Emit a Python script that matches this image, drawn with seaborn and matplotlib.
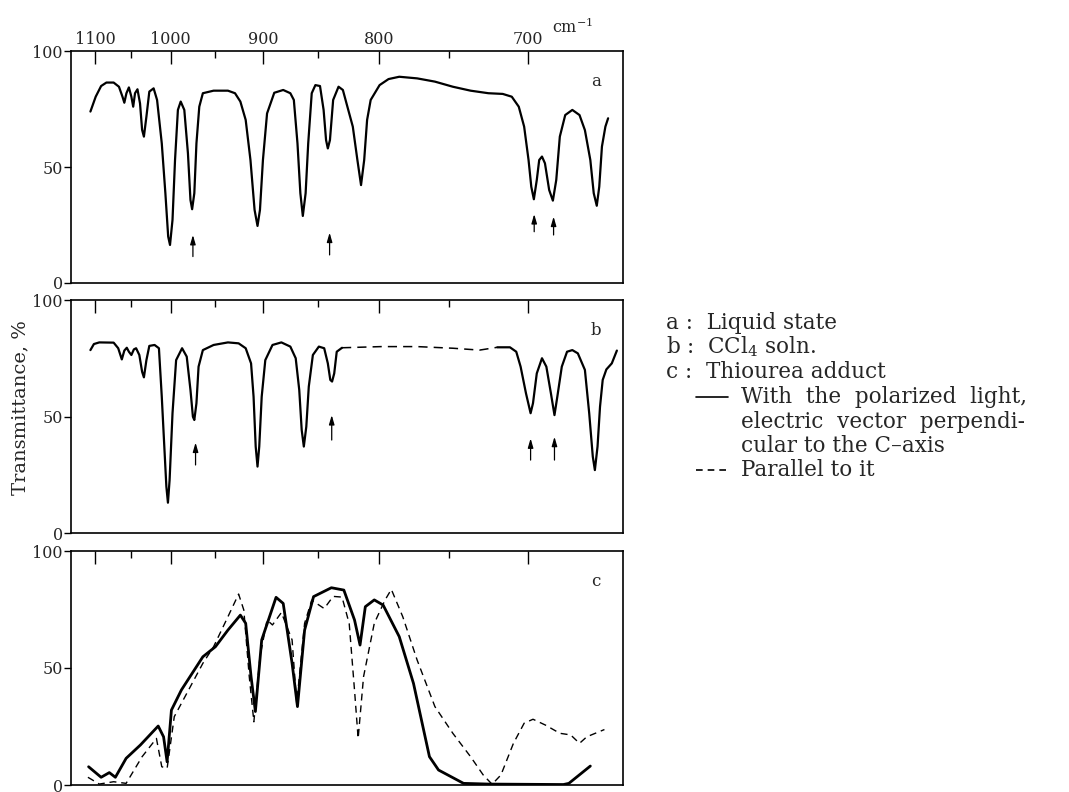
import numpy as np
import seaborn as sns
import matplotlib.pyplot as plt
from matplotlib.lines import Line2D
from matplotlib.ticker import FixedLocator

# wavenumbers (cm-1) and transmittance (%)
# a : liquid state
a_wn = [1106.7, 1099.0, 1091.2, 1083.7, 1073.6, 1066.3, 1061.5, 1059.0, 1056.2, 1052.9,
        1049.6, 1047.2, 1044.8, 1041.6, 1038.3, 1035.6, 1033.3, 1030.1, 1026.4, 1021.0,
        1016.7, 1010.9, 1006.5, 1003.1, 1000.9, 997.9, 994.9, 991.5, 988.2, 984.0,
        979.8, 976.9, 975.0, 972.5, 970.1, 966.9, 962.9, 951.1, 935.8, 928.4,
        922.9, 917.5, 912.7, 908.6, 905.7, 903.3, 900.4, 896.4, 889.5, 881.1,
        874.5, 871.3, 868.0, 865.4, 863.2, 860.7, 858.4, 855.3, 852.1, 848.1,
        845.0, 842.9, 841.4, 839.6, 836.9, 832.4, 828.8, 825.1, 820.7, 817.0,
        814.1, 811.6, 809.3, 806.5, 799.6, 792.8, 784.8, 771.8, 759.3, 747.1,
        735.4, 724.0, 715.1, 709.6, 705.4, 702.2, 699.6, 698.0, 696.5, 694.8,
        693.4, 691.8, 690.1, 687.7, 685.6, 683.7, 681.7, 678.7, 674.8, 670.9,
        668.0, 665.1, 663.3, 661.7, 660.4, 659.0, 657.2, 655.8]
a_T = [73.9, 80.3, 84.9, 86.4, 86.4, 84.6, 80.3, 77.7, 81.8, 84.3,
       80.3, 76.0, 81.8, 83.5, 77.4, 66.0, 63.1, 71.7, 82.5, 83.9,
       78.9, 60.2, 38.7, 20.0, 16.4, 27.2, 53.0, 74.6, 78.2, 74.6,
       55.9, 35.8, 31.8, 38.7, 60.2, 76.0, 81.8, 82.9, 82.9, 81.8,
       78.2, 70.3, 53.0, 31.5, 24.6, 31.5, 53.0, 73.1, 82.0, 83.2,
       81.8, 78.9, 60.2, 38.7, 28.9, 38.7, 60.2, 81.8, 85.3, 84.9,
       74.6, 61.6, 58.0, 61.6, 78.9, 84.6, 83.2, 76.0, 67.4, 53.0,
       42.2, 53.0, 70.3, 78.9, 85.3, 87.9, 88.9, 88.2, 86.8, 84.6,
       82.9, 81.8, 81.5, 80.3, 76.0, 67.4, 53.0, 41.5, 36.1, 44.4,
       53.0, 54.5, 51.6, 40.1, 35.5, 44.4, 63.1, 72.4, 74.6, 72.4,
       65.9, 53.0, 38.7, 33.3, 41.5, 58.8, 67.4, 71.0]
a_arrow_wn = [974.1, 839.9, 696.3, 685.2]
a_arrow_lo = [11.4, 12.1, 22.1, 20.7]
a_arrow_hi = [20.7, 21.7, 29.7, 28.6]

# b : CCl4 solution (solid, dashed gap, solid)
b1_wn = [1106.7, 1101.6, 1093.8, 1073.6, 1067.3, 1062.4, 1059.0, 1055.7, 1052.9, 1049.6,
         1046.3, 1043.4, 1039.2, 1035.6, 1033.3, 1030.1, 1026.4, 1019.8, 1014.4, 1010.9,
         1007.8, 1005.3, 1003.4, 1001.4, 997.9, 993.6, 986.6, 981.2, 976.9, 974.1,
         972.5, 970.1, 967.7, 962.9, 951.1, 935.8, 924.7, 917.5, 912.1, 909.6,
         907.5, 905.7, 904.0, 901.6, 898.1, 891.2, 882.8, 874.5, 869.6, 866.4,
         864.2, 862.3, 860.1, 857.9, 854.3, 849.1, 844.5, 841.4, 839.3, 837.8,
         836.0, 833.9, 829.5]
b1_T = [78.5, 81.1, 81.8, 81.7, 79.3, 74.5, 78.3, 79.5, 77.8, 76.4,
        78.8, 79.3, 76.4, 69.2, 66.8, 74.2, 80.3, 80.7, 79.3, 58.5,
        37.1, 19.9, 13.0, 22.7, 51.4, 74.2, 79.3, 75.7, 61.4, 49.9,
        48.5, 55.7, 71.4, 78.5, 80.7, 81.8, 81.4, 79.3, 72.8, 58.5,
        37.1, 28.5, 37.1, 58.5, 74.2, 80.7, 81.8, 80.0, 75.0, 61.4,
        44.2, 37.1, 45.6, 62.8, 76.4, 80.0, 79.3, 72.8, 65.7, 65.0,
        68.5, 77.8, 79.5]
b_gap_wn = [829.5, 798.3, 771.8, 747.1, 729.6, 718.4]
b_gap_T = [79.5, 80.0, 80.0, 79.3, 78.5, 79.7]
b2_wn = [718.4, 710.7, 706.9, 704.3, 701.1, 698.4, 697.0, 694.8, 691.8, 689.3,
         686.7, 684.7, 683.1, 680.6, 677.7, 674.8, 671.8, 668.0, 665.7, 663.8,
         662.7, 661.3, 660.0, 658.6, 656.7, 653.9, 651.3]
b2_T = [79.7, 79.7, 77.8, 71.4, 59.9, 51.4, 55.7, 68.5, 75.0, 71.4,
        59.9, 50.6, 58.5, 71.4, 77.8, 78.5, 77.1, 70.0, 51.4, 32.8,
        27.0, 37.1, 54.2, 65.7, 70.2, 72.8, 78.3]
b_arrow_wn = [971.1, 838.1, 698.4, 684.7]
b_arrow_lo = [29.2, 39.9, 31.3, 31.3]
b_arrow_hi = [38.8, 50.6, 40.6, 41.3]

# c : thiourea adduct, perpendicular (solid) and parallel (dashed)
c_perp_wn = [1109.4, 1091.2, 1079.6, 1071.2, 1056.6, 1037.8, 1015.3, 1008.7, 1004.4, 999.2,
             987.4, 962.9, 949.1, 935.8, 922.9, 917.5, 912.1, 907.8, 901.6, 887.8,
             881.1, 872.9, 868.0, 861.6, 853.7, 838.4, 828.0, 819.3, 814.9, 810.7,
             803.7, 796.9, 784.8, 774.4, 763.1, 756.8, 740.0, 724.0, 679.7, 676.7,
             665.1]
c_perp_T = [7.8, 3.3, 5.3, 3.3, 11.4, 17.1, 25.2, 20.6, 9.9, 32.0,
            40.6, 54.8, 59.1, 66.2, 72.6, 69.1, 46.3, 31.4, 62.0, 80.2,
            77.6, 52.0, 33.5, 66.2, 80.5, 84.3, 83.3, 70.5, 59.8, 76.2,
            79.1, 76.9, 63.4, 43.4, 12.1, 6.4, 0.7, 0.4, 0.2, 0.7,
            8.1]
c_par_wn = [1110.4, 1093.8, 1073.6, 1056.6, 1035.6, 1017.5, 1010.9, 1004.4, 995.8, 962.9,
            951.1, 935.8, 924.7, 919.4, 913.9, 909.3, 903.3, 896.4, 891.2, 882.8,
            872.9, 868.7, 861.6, 855.3, 844.5, 836.9, 829.5, 823.6, 819.3, 816.4,
            812.1, 803.7, 795.5, 790.7, 782.2, 771.8, 759.3, 747.1, 735.4, 727.3,
            721.7, 716.2, 708.6, 702.2, 697.0, 689.8, 681.7, 675.7, 670.9, 667.0,
            657.7]
c_par_T = [3.3, 0.4, 1.4, 0.7, 12.1, 19.9, 7.8, 7.1, 29.2, 52.0,
           59.1, 71.9, 81.6, 74.8, 46.3, 27.0, 54.8, 70.5, 68.4, 73.7,
           62.0, 34.9, 69.1, 79.0, 75.4, 80.6, 80.3, 68.9, 40.4, 19.9,
           46.3, 69.1, 79.0, 83.6, 71.9, 53.4, 33.5, 22.1, 12.1, 4.3,
           0.3, 4.3, 17.8, 26.4, 28.1, 25.6, 22.1, 21.4, 17.8, 20.6,
           23.7]

major_wn = [1100, 1000, 900, 800, 700]
minor_wn = [1050, 950, 850, 750]
panel_tags = ["a", "b", "c"]


def to_um(w):
    # chart is linear in wavelength: 10000 / wavenumber
    w = np.asarray(w, dtype=float)
    with np.errstate(divide="ignore"):
        return 1e4 / w


sns.set_style("white")
plt.rcParams["font.family"] = ["DejaVu Serif"]
plt.rcParams["mathtext.fontset"] = "dejavuserif"

W, H = 1069, 792
fig = plt.figure(figsize=(W / 100, H / 100), dpi=100)


def box(l, t, r, b):
    return [l / W, 1 - b / H, (r - l) / W, (b - t) / H]


axes = [fig.add_axes(box(71, 51, 623, 283)),
        fig.add_axes(box(71, 300, 623, 533)),
        fig.add_axes(box(71, 551, 623, 785))]

for ax in axes:
    ax.set_xscale("function", functions=(to_um, to_um))

ax_a, ax_b, ax_c = axes
sns.lineplot(x=a_wn, y=a_T, ax=ax_a, color="black", linewidth=1.6, sort=False, estimator=None)
sns.lineplot(x=b1_wn, y=b1_T, ax=ax_b, color="black", linewidth=1.6, sort=False, estimator=None)
sns.lineplot(x=b_gap_wn, y=b_gap_T, ax=ax_b, color="black", linewidth=1.1, sort=False,
             estimator=None, linestyle=(0, (6, 4)))
sns.lineplot(x=b2_wn, y=b2_T, ax=ax_b, color="black", linewidth=1.6, sort=False, estimator=None)
sns.lineplot(x=c_par_wn, y=c_par_T, ax=ax_c, color="black", linewidth=1.0, sort=False,
             estimator=None, linestyle=(0, (5, 3.5)))
sns.lineplot(x=c_perp_wn, y=c_perp_T, ax=ax_c, color="black", linewidth=2.0, sort=False, estimator=None)

for ax, wn, lo, hi in [(ax_a, a_arrow_wn, a_arrow_lo, a_arrow_hi),
                       (ax_b, b_arrow_wn, b_arrow_lo, b_arrow_hi)]:
    for w, l, h in zip(wn, lo, hi):
        ax.annotate("", xy=(w, h), xytext=(w, l),
                    arrowprops=dict(arrowstyle="-|>,head_length=0.55,head_width=0.16",
                                    color="black", lw=0.9, shrinkA=0, shrinkB=0,
                                    mutation_scale=10))

for i, ax in enumerate(axes):
    # 10000/w is decreasing, so the small wavenumber goes first to keep 1100 on the left
    ax.set_xlim(648.2, 1136.0)
    ax.set_ylim(0, 100)
    ax.xaxis.set_major_locator(FixedLocator(major_wn))
    ax.xaxis.set_minor_locator(FixedLocator(minor_wn))
    ax.set_xticklabels([str(v) for v in major_wn])
    ax.tick_params(axis="x", which="both", top=True, bottom=False, direction="in",
                   labeltop=(i == 0), labelbottom=False, width=1.0, color="black",
                   labelsize=11.5, pad=2.5)
    ax.tick_params(axis="x", which="major", length=9)
    ax.tick_params(axis="x", which="minor", length=5)
    ax.set_yticks([0, 50, 100])
    ax.set_yticklabels(["0", "50", "100"])
    ax.tick_params(axis="y", left=True, direction="out", length=5, width=1.0,
                   color="black", labelsize=11.5, pad=1)
    ax.set_xlabel("")
    ax.set_ylabel("")
    for s in ax.spines.values():
        s.set_color("black")
        s.set_linewidth(1.2)
    ax.text(0.951, 0.87, panel_tags[i], transform=ax.transAxes, ha="center",
            va="center", fontsize=12)

fig.text(552 / W, 1 - 33 / H, r"cm$^{-1}$", ha="left", va="baseline", fontsize=11.5)
fig.text(20 / W, 1 - 408 / H, "Transmittance, %", rotation=90, ha="center",
         va="center", fontsize=14)

# key to the panels
fs = 15.5
fig.text(666 / W, 1 - 323 / H, "a :  Liquid state", ha="left", va="center", fontsize=fs)
fig.text(666 / W, 1 - 347 / H, r"b :  CCl$_4$ soln.", ha="left", va="center", fontsize=fs)
fig.text(666 / W, 1 - 372 / H, "c :  Thiourea adduct", ha="left", va="center", fontsize=fs)
fig.add_artist(Line2D([696 / W, 728 / W], [1 - 397 / H] * 2, color="black", lw=1.2))
fig.text(741 / W, 1 - 397 / H, "With  the  polarized  light,", ha="left", va="center", fontsize=fs)
fig.text(741 / W, 1 - 422 / H, "electric  vector  perpendi-", ha="left", va="center", fontsize=fs)
fig.text(741 / W, 1 - 446 / H, "cular to the C\u2013axis", ha="left", va="center", fontsize=fs)
fig.add_artist(Line2D([696 / W, 730 / W], [1 - 470 / H] * 2, color="black", lw=1.2,
                      linestyle=(0, (4, 3))))
fig.text(741 / W, 1 - 470 / H, "Parallel to it", ha="left", va="center", fontsize=fs)

fig.savefig("out.png", dpi=100)
